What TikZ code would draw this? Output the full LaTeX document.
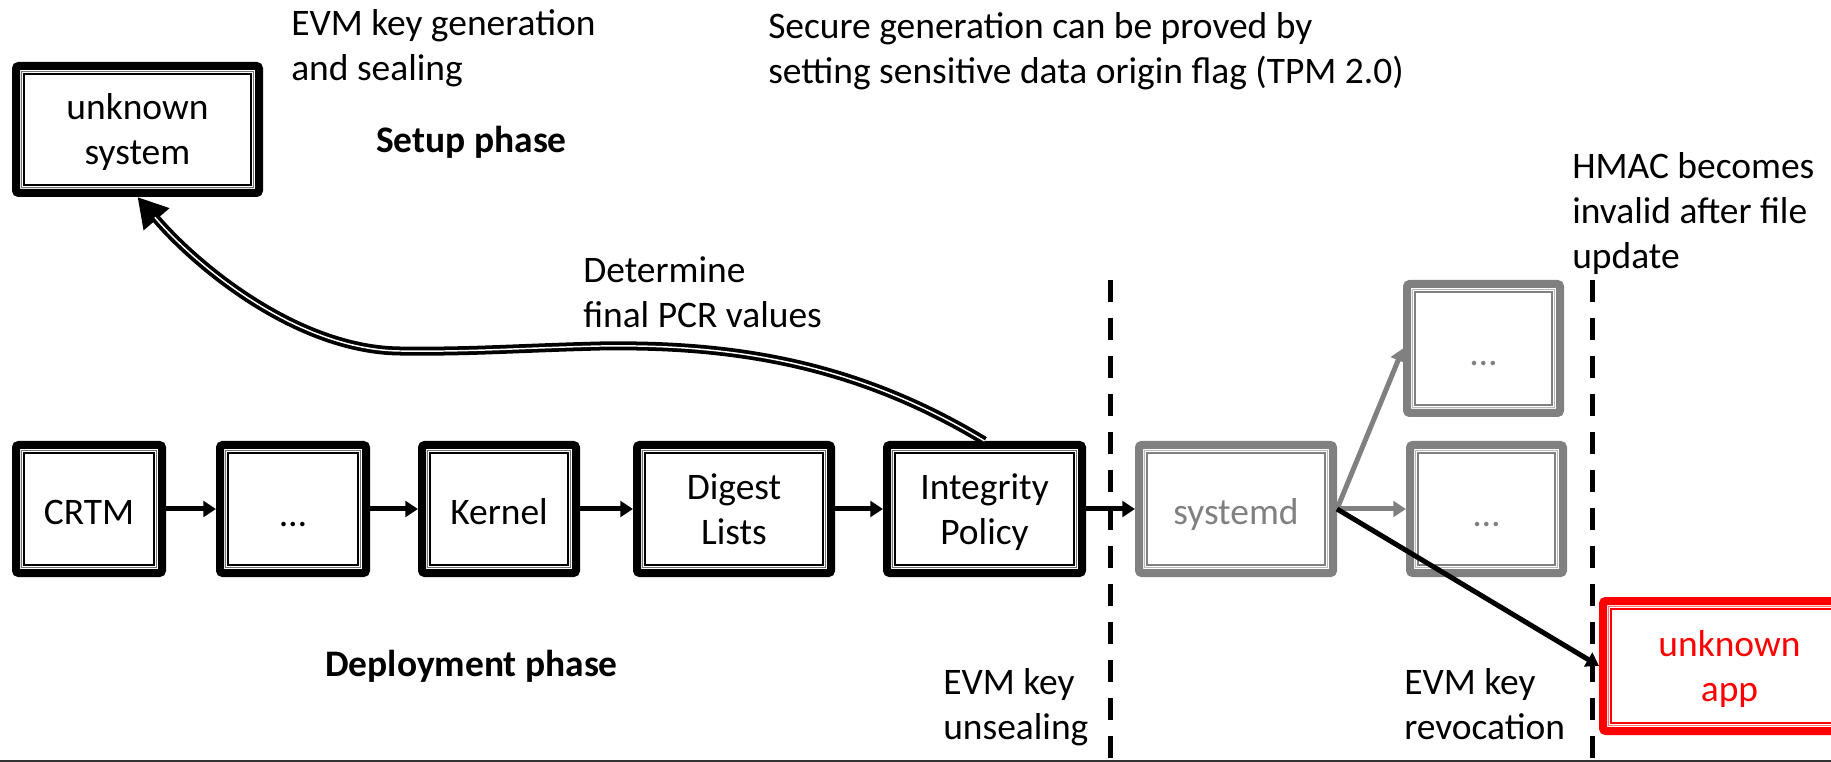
\documentclass[tikz,border=0pt]{standalone}
\usepackage{fontspec}
\setmainfont{Carlito}
\usetikzlibrary{arrows.meta}
\definecolor{boxgray}{HTML}{808080}
\definecolor{appred}{HTML}{FF0000}
% struts that give two-line box labels full line boxes
\newcommand{\firstlinestrut}{\rule{0pt}{24.75pt}}
\newcommand{\lastlinestrut}{\rule[-6pt]{0pt}{6pt}}
\begin{document}
\begin{tikzpicture}[x=0.75pt, y=-0.75pt,
  every node/.style={font=\fontsize{28.1}{33.75}\selectfont},
  % thick-thin framed stage box
  stage/.style={draw=#1, text=#1, fill=white, line width=6pt, rounded corners=2pt,
    align=center, inner sep=0pt,
    path picture={
      \draw[#1!55, line width=0.6pt, sharp corners]
        ([shift={(4.35pt,4.35pt)}]path picture bounding box.south west) rectangle
        ([shift={(-4.35pt,-4.35pt)}]path picture bounding box.north east);
      \draw[#1, line width=1.1pt, sharp corners]
        ([shift={(6pt,6pt)}]path picture bounding box.south west) rectangle
        ([shift={(-6pt,-6pt)}]path picture bounding box.north east);
    }},
  oneline/.style={stage=#1,
    execute at begin node={\rule{0pt}{31pt}},
    execute at end node={\rule[-7pt]{0pt}{0pt}}},
  dotsbox/.style={oneline=#1, execute at begin node={\rule{0pt}{33pt}}},
  note/.style={anchor=north west, align=left, inner sep=0pt},
  boldnote/.style={note, font=\fontsize{28.1}{33.75}\selectfont\bfseries},
  link/.style={draw=#1, line width=3.75pt, -{Triangle[length=9.5pt,width=11.8pt]}},
  link/.default=black,
  feedback/.style={draw=black, line width=6.75pt, -{Triangle[length=22pt,width=24pt]},
    postaction={draw=white, line width=1.1pt, -, shorten >=20pt}},
  phaseline/.style={draw=black, line width=3.75pt, dash pattern=on 16.5pt off 12pt}
]
\clip (0,0) rectangle (1831,762);

% boot chain
\node[oneline=black, minimum width=109.5pt, minimum height=96pt] (crtm) at (89,509) {CRTM};
\node[dotsbox=black, minimum width=109.5pt, minimum height=96pt] (dots1) at (293,509) {…};
\node[oneline=black, minimum width=115.5pt, minimum height=96pt] (kernel) at (499,509) {Kernel};
\node[stage=black, minimum width=145.5pt, minimum height=96pt] (digest) at (734,509)
  {\firstlinestrut Digest\\Lists\lastlinestrut};
\node[stage=black, minimum width=146.25pt, minimum height=96pt] (ip) at (984.5,509)
  {\firstlinestrut Integrity\\Policy\lastlinestrut};
\node[oneline=boxgray, minimum width=145.5pt, minimum height=96pt] (sysd) at (1236,509) {systemd};
\node[dotsbox=boxgray, minimum width=114.75pt, minimum height=96.75pt] (dotsA) at (1483.5,348.5) {…};
\node[dotsbox=boxgray, minimum width=114.75pt, minimum height=96pt] (dotsB) at (1486.5,509) {…};
\node[stage=appred, minimum width=189.75pt, minimum height=97.5pt] (app) at (1729.5,666)
  {\firstlinestrut unknown\\app\lastlinestrut};
\node[stage=black, minimum width=182.25pt, minimum height=95.25pt] (us) at (137.5,129.5)
  {\firstlinestrut unknown\\system\lastlinestrut};

% phase separators
\draw[phaseline] (1110,280) -- (1110,762);
\draw[phaseline] (1592,280) -- (1592,762);
\draw[line width=1.2pt, black!80] (0,761) -- (1831,761);

% connectors
\draw[link] (crtm) -- (dots1);
\draw[link] (dots1) -- (kernel);
\draw[link] (kernel) -- (digest);
\draw[link] (digest) -- (ip);
\draw[link] (ip) -- (sysd);
\draw[link=boxgray] (sysd.east) -- (dotsA.west);
\draw[link=boxgray] (sysd.east) -- (dotsB.west);
\draw[link] (sysd.east) -- (app.west);
\draw[feedback] (ip.north) .. controls (854,362) and (730,344) .. (600,346)
  .. controls (520,348) and (470,352) .. (400,351)
  .. controls (300,350) and (200,270) .. (us.south);

% annotations
\node[note] (t1) at (291,9) {EVM key generation\\and sealing};
\node[boldnote] (t2) at (376,126) {Setup phase};
\node[note] (t3) at (768,12) {Secure generation can be proved by\\setting sensitive data origin flag (TPM 2.0)};
\node[note] (t4) at (1572,152) {HMAC becomes\\invalid after file\\update};
\node[note] (t5) at (583,256) {Determine\\final PCR values};
\node[boldnote] (t6) at (325,650) {Deployment phase};
\node[note] (t7) at (943,668) {EVM key\\unsealing};
\node[note] (t8) at (1404,668) {EVM key\\revocation};
\end{tikzpicture}
\end{document}
